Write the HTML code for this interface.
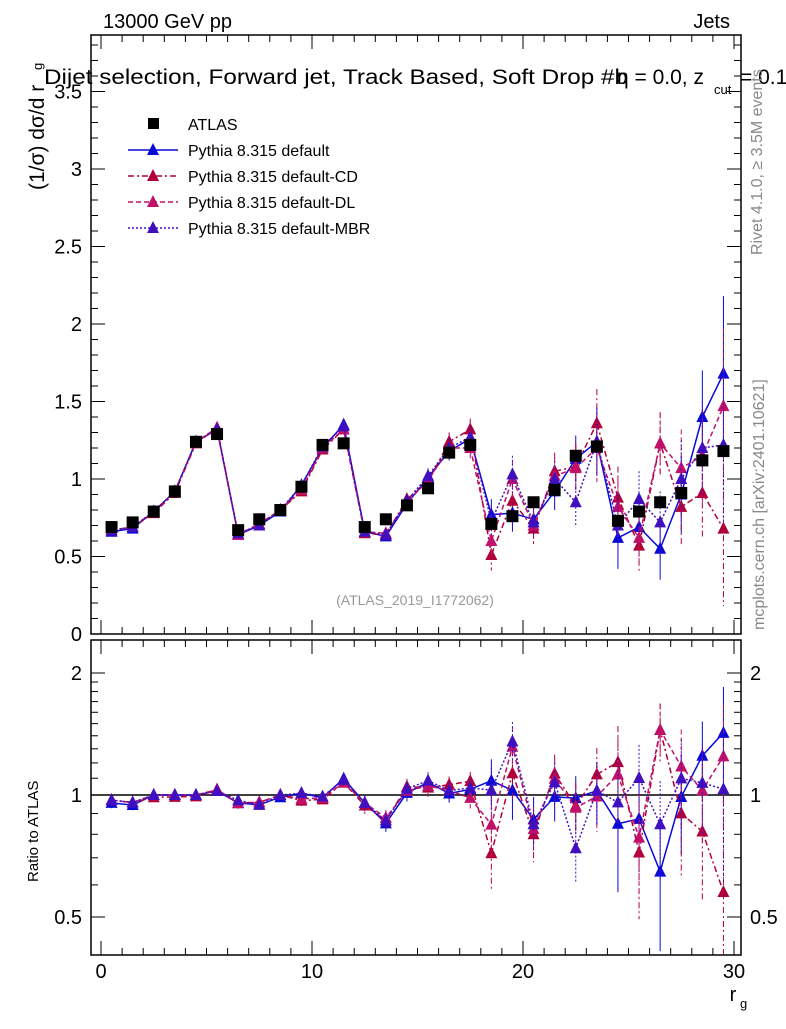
<!DOCTYPE html>
<html><head><meta charset="utf-8"><style>
body{margin:0;background:#fff;font-family:"Liberation Sans",sans-serif}
svg text{font-family:"Liberation Sans",sans-serif}
</style></head><body>
<svg id="c" width="786" height="1024" xmlns="http://www.w3.org/2000/svg"></svg>
<script>
const bins=[0.5,1.5,2.5,3.5,4.5,5.5,6.5,7.5,8.5,9.5,10.5,11.5,12.5,13.5,14.5,15.5,16.5,17.5,18.5,19.5,20.5,21.5,22.5,23.5,24.5,25.5,26.5,27.5,28.5,29.5];
const atlas=[0.69,0.72,0.79,0.92,1.24,1.29,0.67,0.74,0.80,0.95,1.22,1.23,0.69,0.74,0.83,0.94,1.17,1.22,0.71,0.76,0.85,0.93,1.15,1.21,0.73,0.79,0.85,0.91,1.12,1.18];
const vDef=[0.66,0.68,0.79,0.92,1.24,1.32,0.64,0.70,0.79,0.96,1.20,1.35,0.66,0.63,0.84,1.01,1.18,1.26,0.77,0.78,0.74,0.92,1.13,1.24,0.62,0.69,0.55,0.90,1.40,1.68];
const vCD=[0.67,0.69,0.78,0.91,1.23,1.33,0.64,0.71,0.80,0.92,1.19,1.32,0.65,0.64,0.87,0.98,1.24,1.32,0.51,0.86,0.68,1.05,1.08,1.36,0.88,0.57,1.23,0.82,0.91,0.68];
const vDL=[0.67,0.69,0.79,0.92,1.24,1.33,0.64,0.71,0.80,0.93,1.20,1.32,0.66,0.65,0.85,0.99,1.20,1.20,0.60,1.00,0.70,1.02,1.07,1.20,0.82,0.62,1.23,1.07,1.15,1.47];
const vMBR=[0.67,0.69,0.79,0.92,1.24,1.32,0.65,0.70,0.80,0.96,1.21,1.34,0.66,0.64,0.86,1.02,1.20,1.27,0.73,1.03,0.72,1.00,0.85,1.24,0.70,0.87,0.72,1.00,1.20,1.22];
const errs=[0.02,0.02,0.02,0.02,0.03,0.03,0.02,0.02,0.02,0.03,0.03,0.03,0.03,0.03,0.04,0.05,0.06,0.07,0.1,0.12,0.1,0.12,0.15,0.22,0.2,0.18,0.2,0.25,0.3,0.5];
const yTicksMain=[0,0.5,1,1.5,2,2.5,3,3.5];
const xTicks=[0,10,20,30];
const rTicks=[0.5,1,2];

const S=document.getElementById('c');const NS='http://www.w3.org/2000/svg';
function el(t,a,txt){const e=document.createElementNS(NS,t);for(const k in a)e.setAttribute(k,a[k]);if(txt!==undefined)e.textContent=txt;S.appendChild(e);return e;}
const L=91,R=741,T=35,B=634,RT=640,RB=955;
const X=v=>101+v*21.1;
const Y=v=>634-v*155;
const YR=v=>795-Math.log2(v)*122;
let f=el('rect',{x:L,y:T,width:R-L,height:B-T,fill:'none',stroke:'#000','stroke-width':1.5});

f=el('rect',{x:L,y:RT,width:R-L,height:RB-RT,fill:'none',stroke:'#000','stroke-width':1.5});

for(let v=0;v<=30;v++){const x=X(v),big=v%10==0,h=big?14:7;
 el('line',{x1:x,x2:x,y1:B,y2:B-h,stroke:'#000'});el('line',{x1:x,x2:x,y1:T,y2:T+h,stroke:'#000'});
 el('line',{x1:x,x2:x,y1:RB,y2:RB-h,stroke:'#000'});el('line',{x1:x,x2:x,y1:RT,y2:RT+h,stroke:'#000'});}
xTicks.forEach(v=>{const t=el('text',{x:X(v),y:978,'font-size':20,'text-anchor':'middle'},v);
 });
let t=el('text',{x:733,y:1001,'font-size':20,'text-anchor':'middle'},'r');
el('text',{x:740,y:1008,'font-size':13},'g');
for(let v=0;v<=3.85;v+=0.1){const y=Y(v);if(y<T)break;const big=Math.abs(v*2-Math.round(v*2))<1e-6,h=big?14:7;
 el('line',{x1:L,x2:L+h,y1:y,y2:y,stroke:'#000'});el('line',{x1:R,x2:R-h,y1:y,y2:y,stroke:'#000'});}
yTicksMain.forEach(v=>{const t=el('text',{x:82,y:Y(v)+7,'font-size':20,'text-anchor':'end'},v);
 });
t=el('text',{x:0,y:0,'font-size':21,transform:'translate(44,190) rotate(-90)'},'(1/σ) dσ/d r');
el('text',{x:0,y:0,'font-size':13,transform:'translate(42,70) rotate(-90)'},'g');
[0.5,0.6,0.7,0.8,0.9,1,1.1,1.2,1.3,1.4,1.5,1.6,1.7,1.8,1.9,2].forEach(v=>{const y=YR(v),big=rTicks.includes(v),h=big?14:7;
 el('line',{x1:L,x2:L+h,y1:y,y2:y,stroke:'#000'});el('line',{x1:R,x2:R-h,y1:y,y2:y,stroke:'#000'});});
rTicks.forEach(v=>{const t=el('text',{x:82,y:YR(v)+7,'font-size':20,'text-anchor':'end'},v);
 
 const t2=el('text',{x:750,y:YR(v)+7,'font-size':20},v);});
t=el('text',{x:0,y:0,'font-size':15,transform:'translate(38,882) rotate(-90)'},'Ratio to ATLAS');
el('line',{x1:L,x2:R,y1:YR(1),y2:YR(1),stroke:'#000','stroke-width':1.5});
t=el('text',{x:103,y:28,'font-size':20},'13000 GeV pp');
t=el('text',{x:730,y:28,'font-size':20,'text-anchor':'end'},'Jets');
t=el('text',{x:44,y:84,'font-size':21,textLength:584,lengthAdjust:'spacingAndGlyphs'},'Dijet selection, Forward jet, Track Based, Soft Drop #b');
el('text',{x:617,y:84,'font-size':21},'η = 0.0, z');el('text',{x:714,y:94,'font-size':13},'cut');el('text',{x:740,y:84,'font-size':21},'= 0.1');
t=el('text',{x:415,y:605,'font-size':14,fill:'#999','text-anchor':'middle'},'(ATLAS_2019_I1772062)');
t=el('text',{x:0,y:0,'font-size':16,fill:'#888',transform:'translate(762,255) rotate(-90)'},'Rivet 4.1.0, ≥ 3.5M events');
t=el('text',{x:0,y:0,'font-size':16,fill:'#888',transform:'translate(764,630) rotate(-90)'},'mcplots.cern.ch [arXiv:2401.10621]');
const series=[
 {name:'default',vals:vDef,col:'#0a0ad8',dash:'',label:'Pythia 8.315 default'},
 {name:'default-cd',vals:vCD,col:'#b0003a',dash:'6,3,2,3',label:'Pythia 8.315 default-CD'},
 {name:'default-dl',vals:vDL,col:'#c0106a',dash:'5,3',label:'Pythia 8.315 default-DL'},
 {name:'default-mbr',vals:vMBR,col:'#4010c0',dash:'2,2',label:'Pythia 8.315 default-MBR'}];
function tri(x,y,c,n){const p=el('polygon',{points:`${x},${y-7} ${x-6},${y+5} ${x+6},${y+5}`,fill:c});}
function clampR(v){return Math.max(RT,Math.min(RB,v));}
series.forEach(s=>{
 let d='',dr='';
 s.vals.forEach((v,i)=>{const x=X(bins[i]),y=Y(v),r=v/atlas[i],yr=YR(r);
  d+=(i?'L':'M')+x+','+y;dr+=(i?'L':'M')+x+','+yr;
  const e=errs[i];
  el('line',{x1:x,x2:x,y1:Y(v+e),y2:Y(v-e),stroke:s.col,'stroke-dasharray':s.dash});
  el('line',{x1:x,x2:x,y1:clampR(YR((v+e)/atlas[i])),y2:clampR(YR(Math.max(0.01,(v-e))/atlas[i])),stroke:s.col,'stroke-dasharray':s.dash});
 });
 let p=el('path',{d:d,fill:'none',stroke:s.col,'stroke-width':1.5,'stroke-dasharray':s.dash});
 
 p=el('path',{d:dr,fill:'none',stroke:s.col,'stroke-width':1.5,'stroke-dasharray':s.dash});
 
 s.vals.forEach((v,i)=>{tri(X(bins[i]),Y(v),s.col,'point-'+s.name);tri(X(bins[i]),YR(v/atlas[i]),s.col,'ratio-point-'+s.name);});
});
atlas.forEach((v,i)=>{const r=el('rect',{x:X(bins[i])-6,y:Y(v)-6,width:12,height:12,fill:'#000'});
 });
let g=el('rect',{x:148,y:118,width:11,height:11,fill:'#000'});
t=el('text',{x:188,y:130,'font-size':16},'ATLAS');
series.forEach((s,i)=>{const y=156+i*26;
 el('line',{x1:128,x2:178,y1:y-6,y2:y-6,stroke:s.col,'stroke-width':1.5,'stroke-dasharray':s.dash});
 tri(153,y-6,s.col,'legend-marker');
 const t=el('text',{x:188,y:y,'font-size':16},s.label);});
</script>
</body></html>
